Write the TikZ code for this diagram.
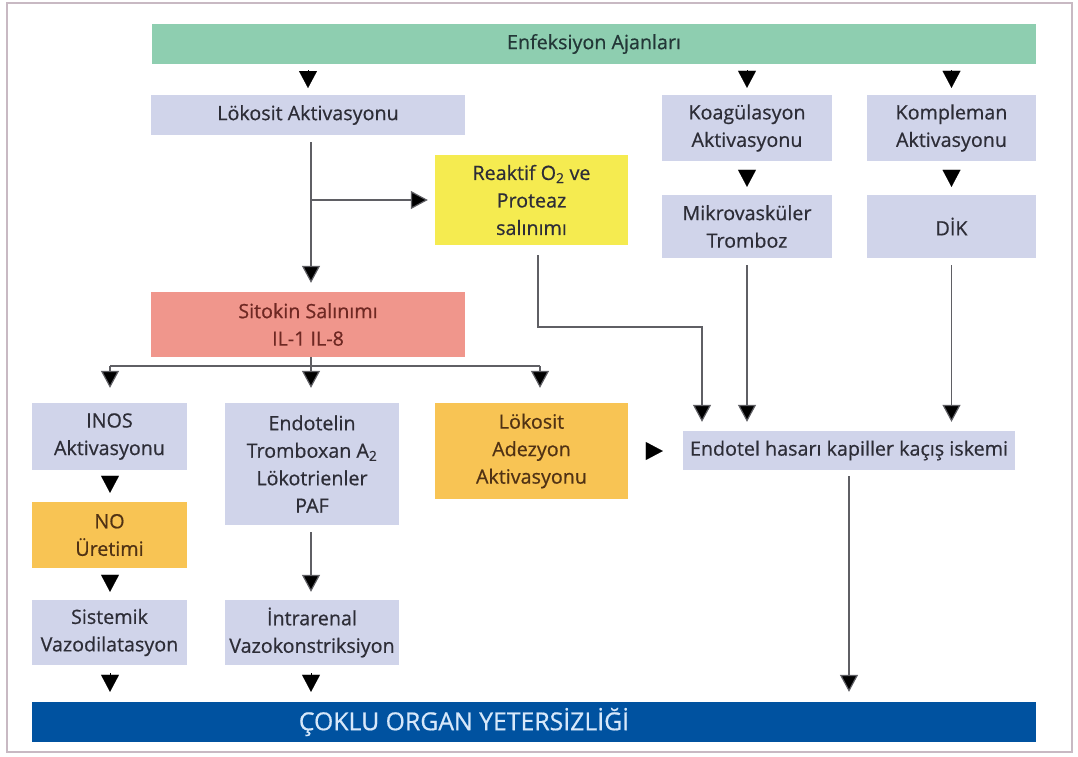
\documentclass[tikz,border=0pt]{standalone}
\usepackage{fontspec}
\setmainfont{Open Sans}[FakeBold=0.6]
\usetikzlibrary{arrows.meta}
\definecolor{cgreen}{RGB}{142,206,176}
\definecolor{clav}{RGB}{208,212,234}
\definecolor{cyel}{RGB}{245,235,80}
\definecolor{csal}{RGB}{240,150,140}
\definecolor{corg}{RGB}{248,196,84}
\definecolor{cblue}{RGB}{0,82,160}
\definecolor{ctext}{RGB}{45,45,55}
\definecolor{cline}{RGB}{95,95,100}
\definecolor{cframe}{RGB}{200,185,195}
\begin{document}
\begin{tikzpicture}[x=1pt,y=-1pt,
  box/.style={inner sep=0pt, minimum width=#1, align=center, text=ctext,
     font=\fontsize{19.7}{27.5}\selectfont},
  conn/.style={draw=cline, line width=1.2pt,
     -{Triangle[length=17pt,width=18pt,fill=black]}},
  tiponly/.style={draw=black, line width=0.1pt,
     -{Triangle[length=17pt,width=18pt,fill=black]}},
  plain/.style={draw=cline, line width=1.2pt}]
\useasboundingbox (0,0) rectangle (1078,756);
\fill[white] (0,0) rectangle (1078,756);
\draw[cframe, line width=1.5pt] (7,3) rectangle (1072,752);

% nodes
\node[box=884pt, fill=cgreen, minimum height=40pt, text={rgb,255:red,35;green,55;blue,55}] (enf) at (594,44) {Enfeksiyon Ajanları};
\node[box=314pt, fill=clav, minimum height=40pt] (lok) at (308,115) {Lökosit Aktivasyonu};
\node[box=170pt, fill=clav, minimum height=66pt] (koag) at (747,128) {Koagülasyon\\Aktivasyonu};
\node[box=169pt, fill=clav, minimum height=66pt] (komp) at (951.5,128) {Kompleman\\Aktivasyonu};
\node[box=170pt, fill=clav, minimum height=63pt] (mikro) at (747,226.5) {Mikrovasküler\\Tromboz};
\node[box=169pt, fill=clav, minimum height=63pt] (dik) at (951.5,226.5) {DİK};
\node[box=193pt, fill=cyel, minimum height=90pt] (reak) at (531.5,200) {Reaktif O\textsubscript{2} ve\\Proteaz\\salınımı};
\node[box=314pt, fill=csal, minimum height=65pt, text={rgb,255:red,110;green,40;blue,35}] (sit) at (308,324.5) {Sitokin Salınımı\\IL-1 IL-8};
\node[box=155pt, fill=clav, minimum height=67pt] (inos) at (109.5,436.5) {INOS\\Aktivasyonu};
\node[box=174pt, fill=clav, minimum height=122pt] (endo) at (312,464) {Endotelin\\Tromboxan A\textsubscript{2}\\Lökotrienler\\PAF};
\node[box=193pt, fill=corg, minimum height=96pt, text={rgb,255:red,80;green,50;blue,20}] (lad) at (531.5,451) {Lökosit\\Adezyon\\Aktivasyonu};
\node[box=155pt, fill=corg, minimum height=66pt, text={rgb,255:red,80;green,50;blue,20}] (no) at (109.5,535) {NO\\Üretimi};
\node[box=155pt, fill=clav, minimum height=65pt] (sis) at (109.5,632.5) {Sistemik\\Vazodilatasyon};
\node[box=174pt, fill=clav, minimum height=65pt] (intra) at (312,632.5) {İntrarenal\\Vazokonstriksiyon};
\node[box=332pt, fill=clav, minimum height=39pt] (endt) at (849,450.5) {Endotel hasarı kapiller kaçış iskemi};
\node[box=1004pt, fill=cblue, minimum height=40pt] (cok) at (534,722) {};
\node[text={rgb,255:red,215;green,232;blue,250}, font=\fontsize{24.8}{28}\selectfont, inner sep=0pt] (coktxt) at (464,722) {ÇOKLU ORGAN YETERSİZLİĞİ};

% helper coordinates
\coordinate (trunk) at (311,200);
\coordinate (bus) at (311,366);
\coordinate (busL) at (110,366);
\coordinate (busR) at (540,366);
\coordinate (rk1) at (538,327);
\coordinate (rk2) at (702,327);

% tip-only arrows
\draw[tiponly] (308,70) -- (308,88);
\draw[tiponly] ([yshift=-6pt]enf.south -| koag.north) -- ([yshift=7pt]koag.north);
\draw[tiponly] ([yshift=-6pt]enf.south -| komp.north) -- ([yshift=7pt]komp.north);
\draw[tiponly] ([yshift=-9pt]koag.south) -- ([yshift=8pt]mikro.north);
\draw[tiponly] ([yshift=-9pt]komp.south) -- ([yshift=8pt]dik.north);
\draw[tiponly] ([yshift=-7pt]inos.south -| 110,0) -- ([yshift=9pt]no.north -| 110,0);
\draw[tiponly] ([yshift=-7pt]no.south -| 110,0) -- ([yshift=8pt]sis.north -| 110,0);
\draw[tiponly] ([yshift=-8pt]sis.south -| 110,0) -- ([yshift=10pt]cok.north -| 110,0);
\draw[tiponly] ([yshift=-8pt]intra.south -| 311,0) -- ([yshift=10pt]cok.north -| 311,0);
\draw[tiponly] ([xshift=19pt]lad.east) -- ([xshift=-20pt]endt.west |- lad.east);

% connectors with lines
\draw[conn] (lok.south -| trunk) ++(0,7) -- ([yshift=9pt]sit.north -| trunk);
\draw[conn] (trunk) -- ([xshift=-7pt]reak.west |- trunk);
\draw[plain] (sit.south -| bus) -- (bus);
\draw[plain] (busL) -- (busR);
\draw[conn] (busL) -- ([yshift=15pt]inos.north -| busL);
\draw[conn] (bus) -- ([yshift=15pt]endo.north -| bus);
\draw[conn] (busR) -- ([yshift=15pt]lad.north -| busR);
\draw[conn] ([yshift=-7pt]endo.south -| 311,0) -- ([yshift=8pt]intra.north -| 311,0);
\draw[conn] ([yshift=-10pt]reak.south -| rk1) -- (rk1) -- (rk2) -- ([yshift=9pt]endt.north -| rk2);
\draw[conn] ([yshift=-7pt]mikro.south) -- ([yshift=9pt]endt.north -| mikro);
\draw[conn] ([yshift=-7pt]dik.south) -- ([yshift=9pt]endt.north -| dik);
\draw[conn] ([yshift=-6pt]endt.south) -- ([yshift=10pt]cok.north -| endt);
\end{tikzpicture}
\end{document}
